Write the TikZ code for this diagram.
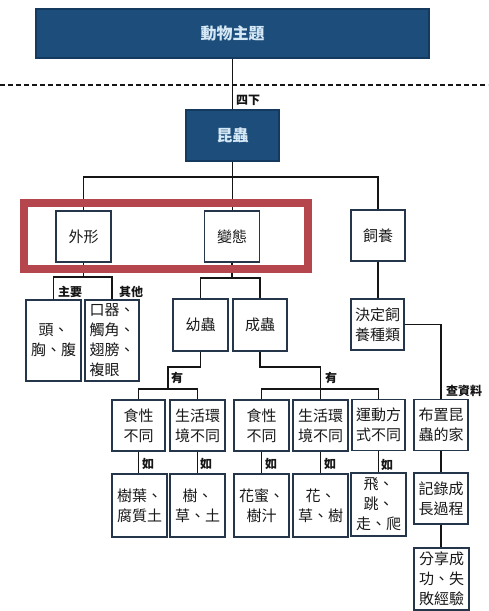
\documentclass[tikz,border=0pt]{standalone}
\usepackage{fontspec}
\newfontfamily\cjk{Noto Sans CJK TC}
\definecolor{dfill}{HTML}{1D4D7B}
\definecolor{dbord}{HTML}{143A60}
\definecolor{dtext}{HTML}{D5E8F5}
\definecolor{boxc}{HTML}{26364A}
\definecolor{linec}{HTML}{151515}
\definecolor{redc}{HTML}{B5464D}
\begin{document}
\begin{tikzpicture}[x=1pt,y=-1pt,
  box/.style={draw=boxc, line width=1.3pt, fill=white, inner sep=0pt, align=center, text=black!90, font=\cjk\fontsize{15}{20}\selectfont},
  dbox/.style={draw=dbord, line width=1.2pt, fill=dfill, text=dtext, inner sep=0pt, font=\cjk\bfseries\fontsize{16}{19}\selectfont},
  conn/.style={line width=1.6pt, draw=linec},
  lab/.style={font=\cjk\bfseries\fontsize{12}{14}\selectfont, inner sep=0pt, text=linec}]
\useasboundingbox (0,0) rectangle (488,611);
% dashed separator
\draw[line width=1.4pt, draw=linec, dash pattern=on 5pt off 3pt] (0,85) -- (488,85);
% nodes
\node[dbox, minimum width=393pt, minimum height=49pt] (top) at (232.5,33.5) {動物主題};
\node[dbox, minimum width=93pt, minimum height=51pt] (kun) at (232.5,135.5) {昆蟲};
\node[box, minimum width=55pt, minimum height=51pt] (waixing) at (83.5,236.5) {外形};
\node[box, minimum width=55pt, minimum height=51pt] (biantai) at (232,236.5) {變態};
\node[box, minimum width=54pt, minimum height=51pt] (siyang) at (378,235.5) {飼養};
\node[box, minimum width=55pt, minimum height=81pt] (toux) at (53.5,340.5) {頭、\\胸、腹};
\node[box, minimum width=54pt, minimum height=81pt, align=left] (kouqi) at (112,340.5) {口器、\\觸角、\\翅膀、\\複眼};
\node[box, minimum width=55pt, minimum height=52pt] (youchong) at (200.5,325) {幼蟲};
\node[box, minimum width=54pt, minimum height=52pt] (chengchong) at (260,325) {成蟲};
\node[box, minimum width=53pt, minimum height=51pt] (jueding) at (377.5,324.5) {決定飼\\養種類};
\node[box, minimum width=53pt, minimum height=51pt] (sx1) at (138.5,425.5) {食性\\不同};
\node[box, minimum width=55pt, minimum height=51pt] (hj1) at (197.5,425.5) {生活環\\境不同};
\node[box, minimum width=55pt, minimum height=51pt] (sx2) at (261.5,425.5) {食性\\不同};
\node[box, minimum width=55pt, minimum height=51pt] (hj2) at (320.5,425.5) {生活環\\境不同};
\node[box, minimum width=53pt, minimum height=51pt] (yd) at (378.5,425) {運動方\\式不同};
\node[box, minimum width=54pt, minimum height=51pt] (bz) at (441,425) {布置昆\\蟲的家};
\node[box, minimum width=55pt, minimum height=63pt] (ex1) at (139.5,505.5) {樹葉、\\腐質土};
\node[box, minimum width=55pt, minimum height=63pt] (ex2) at (197.5,505.5) {樹、\\草、土};
\node[box, minimum width=55pt, minimum height=63pt] (ex3) at (261.5,505.5) {花蜜、\\樹汁};
\node[box, minimum width=55pt, minimum height=63pt] (ex4) at (320.5,505.5) {花、\\草、樹};
\node[box, minimum width=55pt, minimum height=63pt] (ex5) at (378.5,504.5) {飛、\\跳、\\走、爬};
\node[box, minimum width=54pt, minimum height=51pt] (jl) at (441,498.5) {記錄成\\長過程};
\node[box, minimum width=55pt, minimum height=62pt] (fx) at (441.5,579) {分享成\\功、失\\敗經驗};
% connectors
\draw[conn] (top.south) -- (top.south |- kun.north);
\draw[conn] (kun.south) -- (kun.south |- biantai.north);
\draw[conn] (waixing.north) -- (waixing.north |- 0,177) -| (siyang.north);
\draw[conn] (waixing.south) -- (waixing.south |- 0,277);
\draw[conn] (toux.north) -- (toux.north |- 0,277) -| (kouqi.north);
\draw[conn] (biantai.south) -- (biantai.south |- 0,278);
\draw[conn] (youchong.north) -- (youchong.north |- 0,278) -| (chengchong.north);
\draw[conn] (siyang.south) -- (siyang.south |- jueding.north);
\draw[conn] (jueding.east) -| (bz.north);
\coordinate (j1) at (168,389);
\draw[conn] (youchong.south) -- (youchong.south |- 0,367) -| (j1);
\draw[conn] (sx1.north) -- (sx1.north |- j1) -| (hj1.north);
\draw[conn] (chengchong.south) -- (chengchong.south |- 0,367) -| (hj2.north);
\draw[conn] (sx2.north) -- (sx2.north |- 0,389) -| (yd.north);
\draw[conn] (sx1.south) -- (sx1.south |- ex1.north);
\draw[conn] (hj1.south) -- (hj1.south |- ex2.north);
\draw[conn] (sx2.south) -- (sx2.south |- ex3.north);
\draw[conn] (hj2.south) -- (hj2.south |- ex4.north);
\draw[conn] (yd.south) -- (yd.south |- ex5.north);
\draw[conn] (bz.south) -- (jl.north);
\draw[conn] (jl.south) -- (jl.south |- fx.north);
% red frame
\draw[line width=8pt, draw=redc] (24,203) rectangle (308,269);
% labels
\node[lab] (l1) at (248,100) {四下};
\node[lab] (l2) at (70,292) {主要};
\node[lab] (l3) at (131,292) {其他};
\node[lab] (l4) at (177,378) {有};
\node[lab] (l5) at (331,378) {有};
\node[lab] (l6) at (148,464) {如};
\node[lab] (l7) at (206,464) {如};
\node[lab] (l8) at (271,464) {如};
\node[lab] (l9) at (330,464) {如};
\node[lab] (l10) at (387,465) {如};
\node[lab, anchor=west] (l11) at (446,391) {查資料};
\end{tikzpicture}
\end{document}
